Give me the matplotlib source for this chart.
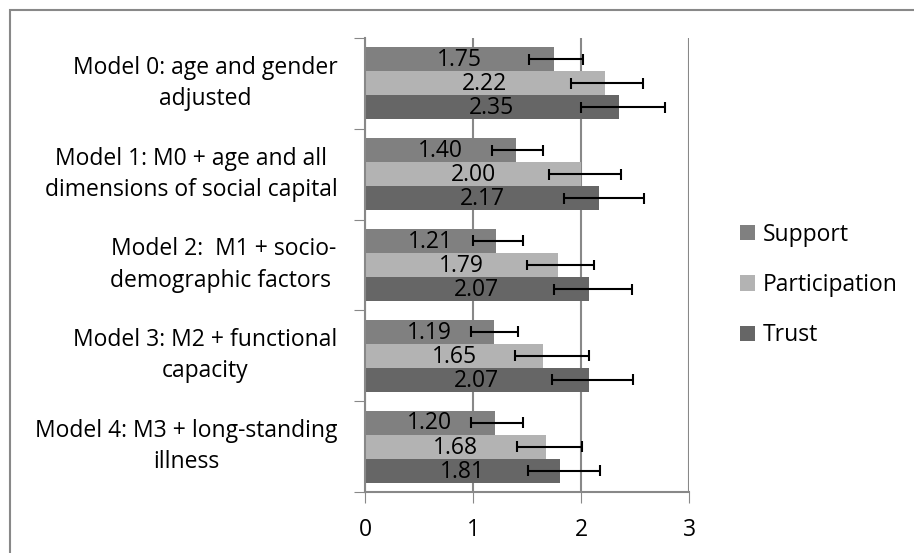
import numpy as np
import matplotlib.pyplot as plt
from matplotlib.patches import Rectangle, Patch

models = ["Model 0: age and gender\nadjusted",
          "Model 1: M0 + age and all\ndimensions of social capital",
          "Model 2:  M1 + socio-\ndemographic factors ",
          "Model 3: M2 + functional\ncapacity",
          "Model 4: M3 + long-standing\nillness"]
series = ["Support", "Participation", "Trust"]
support = [1.75, 1.40, 1.21, 1.19, 1.20]
participation = [2.22, 2.00, 1.79, 1.65, 1.68]
trust = [2.35, 2.17, 2.07, 2.07, 1.81]
# confidence interval bounds
support_lo = [1.52, 1.18, 1.00, 0.98, 0.98]
support_hi = [2.02, 1.65, 1.46, 1.42, 1.46]
participation_lo = [1.91, 1.70, 1.50, 1.39, 1.41]
participation_hi = [2.57, 2.37, 2.12, 2.07, 2.01]
trust_lo = [2.00, 1.84, 1.75, 1.73, 1.51]
trust_hi = [2.78, 2.58, 2.47, 2.48, 2.18]

colors = ["#808080", "#b3b3b3", "#666666"]
font = ["Open Sans", "DejaVu Sans"]
plt.rcParams['font.family'] = font
fs = 16.5

fig = plt.figure(figsize=(9.14, 5.53), dpi=100)
ax = fig.add_axes([365 / 914, 1 - 492 / 553, 324 / 914, 454 / 553])

# outer chart border
fig.patches.append(Rectangle((10 / 914, -0.1), 1.2, 1 - 10 / 553 + 0.1,
                             transform=fig.transFigure, fill=False,
                             edgecolor="#888888", linewidth=1.5))

y = np.arange(len(models))
h = 0.265
cap = 0.06
values = [support, participation, trust]
lows = [support_lo, participation_lo, trust_lo]
highs = [support_hi, participation_hi, trust_hi]
for i, (vals, lo, hi) in enumerate(zip(values, lows, highs)):
    pos = y + (i - 1) * h
    ax.barh(pos, vals, height=h, color=colors[i], zorder=2)
    ax.hlines(pos, lo, hi, color="black", linewidth=1.5, zorder=3)
    ax.vlines(lo, pos - cap, pos + cap, color="black", linewidth=1.5, zorder=3)
    ax.vlines(hi, pos - cap, pos + cap, color="black", linewidth=1.5, zorder=3)
    for p, v in zip(pos, vals):
        ax.text(v / 2, p + 0.01, "%.2f" % v, ha="center", va="center",
                fontsize=fs, color="black", zorder=4)

ax.set_xlim(0, 3)
ax.set_ylim(len(models) - 0.5, -0.5)
ax.set_xticks([0, 1, 2, 3])
ax.tick_params(axis="x", labelsize=fs, length=8, color="#888888", pad=11)
ax.grid(axis="x", color="#888888", linewidth=1.5, zorder=0)

ax.set_yticks(np.arange(len(models) + 1) - 0.5)
ax.set_yticklabels([])
ax.tick_params(axis="y", length=8, color="#888888")
for p, m in zip(y, models):
    ax.text(-0.085, p, m, ha="right", va="center", fontsize=fs,
            multialignment="center", linespacing=1.4,
            transform=ax.get_yaxis_transform())

for s in ["top", "right"]:
    ax.spines[s].set_visible(False)
for s in ["left", "bottom"]:
    ax.spines[s].set_color("#888888")
    ax.spines[s].set_linewidth(1.5)

handles = [Patch(facecolor=c) for c in colors]
fig.legend(handles, series, loc="center left", bbox_to_anchor=(719 / 914, 1 - 285 / 553),
           frameon=False, fontsize=fs, handlelength=0.65, handleheight=0.65,
           handletextpad=0.35, labelspacing=1.15)

fig.savefig("out.png", dpi=100)
